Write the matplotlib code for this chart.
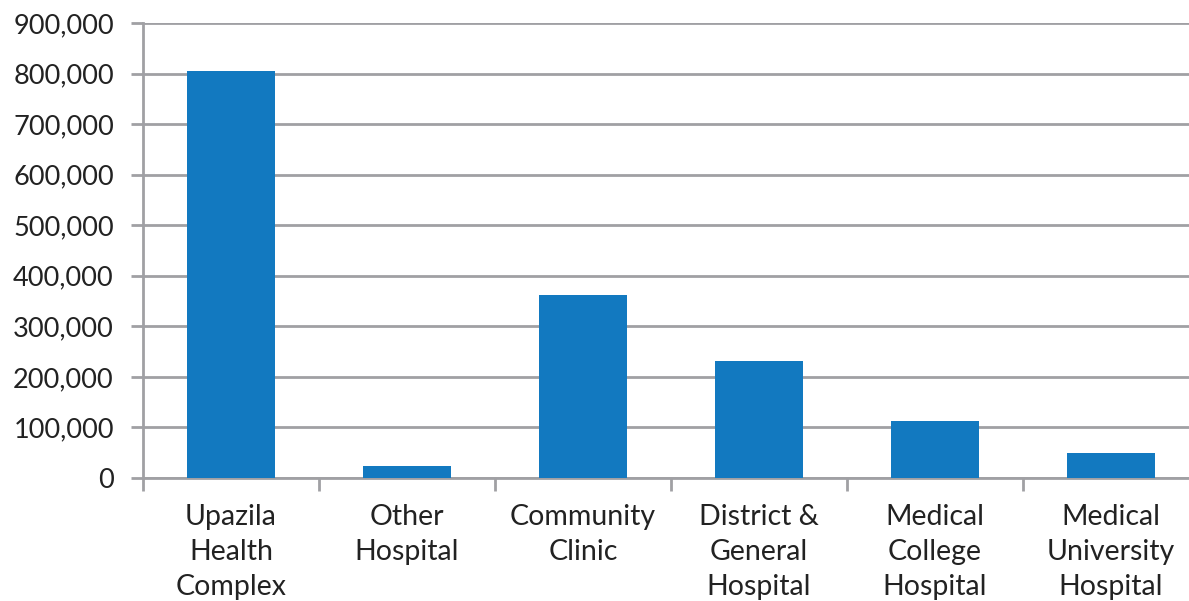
import matplotlib
matplotlib.use('Agg')
import matplotlib.pyplot as plt
from matplotlib.ticker import FuncFormatter, MultipleLocator
import numpy as np

categories = ['Upazila\nHealth\nComplex', 'Other\nHospital', 'Community\nClinic',
              'District &\nGeneral\nHospital', 'Medical\nCollege\nHospital',
              'Medical\nUniversity\nHospital']
patients = [806000, 23000, 361500, 231000, 112000, 49500]

bar_color = '#1279c0'
grid_color = '#a0a0a4'

plt.rcParams['font.family'] = ['Lato', 'DejaVu Sans']

fig = plt.figure(figsize=(11.89, 6.01), dpi=100)
# right edge of the plot runs a little past the image, as in the reference
ax = fig.add_axes([143 / 1189, 1 - 478 / 601, 1056 / 1189, 455 / 601])

x = np.arange(len(categories))
ax.bar(x, patients, width=0.5, color=bar_color, zorder=3)

ax.set_xlim(-0.5, len(categories) - 0.5)
ax.set_ylim(0, 900000)
ax.yaxis.set_major_locator(MultipleLocator(100000))
ax.yaxis.set_major_formatter(FuncFormatter(lambda v, p: f'{int(v):,}'))
ax.grid(axis='y', color=grid_color, linewidth=2, zorder=0)

# category labels at centres, tick marks at the boundaries
ax.set_xticks(x)
ax.set_xticklabels(categories, fontsize=20.5, color='#222222', linespacing=1.42)
ax.tick_params(axis='x', which='major', length=0, pad=19)
ax.set_xticks(np.arange(len(categories) + 1) - 0.5, minor=True)
ax.tick_params(axis='x', which='minor', length=9, width=2, color=grid_color)
ax.tick_params(axis='y', length=9, width=2, color=grid_color, pad=12,
               labelsize=19.5, labelcolor='#222222')

for side in ['top', 'right']:
    ax.spines[side].set_visible(False)
for side in ['left', 'bottom']:
    ax.spines[side].set_color(grid_color)
    ax.spines[side].set_linewidth(2)

fig.savefig('out.png', dpi=100)
